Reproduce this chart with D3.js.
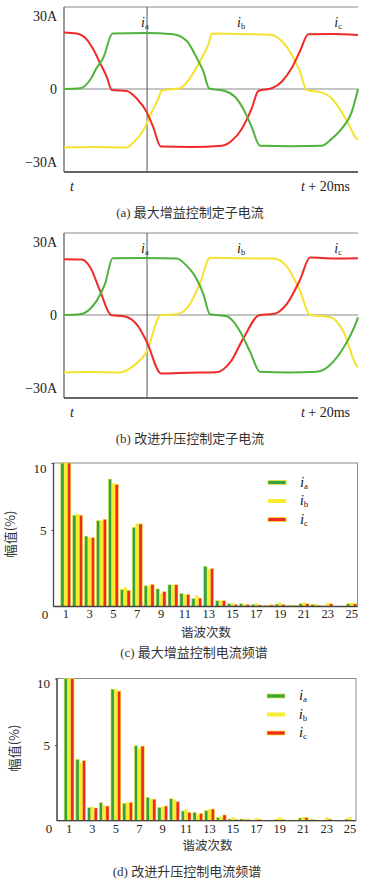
<!DOCTYPE html>
<html lang="zh">
<head>
<meta charset="UTF-8">
<title>定子电流与电流频谱</title>
<script src="https://d3js.org/d3.v7.min.js"></script>
<style>
    body { margin: 0; background: #fff; }
    .num { font-family: "Liberation Serif", "DejaVu Serif", serif; font-size: 14px; fill: #222; }
    .tick text { font-family: "Liberation Serif", "DejaVu Serif", serif; fill: #222; }
    .cap { font-family: "Liberation Serif", "Noto Sans CJK SC", serif; font-size: 13px; fill: #333; }
    .cjk { font-family: "Noto Sans CJK SC", sans-serif; font-size: 13px; fill: #333; }
    .it { font-style: italic; }
</style>
</head>
<body>
<script>
// ---- waveform data: [time ms, current A] ----
// (a) max gain control
let waveA_ia = [[0, 0], [1.1, 0.3], [1.77, 3.7], [2.22, 8.6], [2.67, 12.8], [3.3, 22.8], [5.5, 23], [7.43, 22.5],
    [8.35, 19.7], [9.03, 12.8], [9.48, 7.2], [9.88, 0.2], [10.95, -0.8], [11.63, -3.2], [12.31, -9.5],
    [12.77, -15.7], [13.33, -23.3], [15.5, -23.5], [17.52, -23.3], [18.2, -20.5], [18.88, -16.4], [19.57, -9.5], [20, 0]];
let waveA_ib = [[0, -24], [2.2, -23.8], [4.27, -24], [4.6, -22.6], [5.06, -19.9], [5.51, -15.7], [5.97, -9.5],
    [6.42, -3.9], [6.65, -0.6], [7.89, 0.3], [8.57, 4.5], [9.25, 11.4], [9.82, 18.3], [10.07, 22.8], [12, 22.6],
    [14.13, 22.2], [14.81, 19.7], [15.49, 14.2], [16.05, 7.2], [16.51, -0.4], [17.53, -1.4], [18.21, -3.9],
    [18.89, -9.5], [19.34, -14.3], [19.84, -19.9], [20, -21]];
let waveA_ic = [[0, 23.2], [0.86, 22.8], [1.54, 20.4], [1.99, 16.3], [2.45, 10.7], [2.9, 5.1], [3.25, -0.4],
    [4.27, -0.8], [4.95, -3.9], [5.63, -9.5], [6.07, -15.7], [6.58, -23.6], [8.6, -23.8], [10.73, -23.3],
    [11.41, -21.3], [12.09, -16.4], [12.77, -8], [13.22, -0.8], [14.13, 0.3], [14.81, 3], [15.49, 8.6],
    [16.05, 15.5], [16.62, 22.5], [18.3, 22.6], [20, 22.2]];

// (b) improved boost control
let waveB_ia = [[0, 0], [1.09, 0.3], [1.77, 2.5], [2.22, 5.8], [2.79, 12.8], [3.31, 23.3], [5.5, 23.4], [7.67, 23.2],
    [8.3, 20.5], [8.8, 17], [9.48, 8.6], [9.93, 0.3], [11.07, -0.5], [11.5, -2.5], [11.97, -6.7], [12.65, -15],
    [13.33, -23.3], [15.3, -23.6], [17.19, -23.3], [18.1, -20.5], [19.0, -13.6], [19.91, -2.5], [20, -1]];
let waveB_ib = [[0, -23.6], [2, -23.4], [3.81, -23.6], [4.72, -20.9], [5.63, -15], [6.58, 0], [7.67, 0.3],
    [8.57, 4.5], [9.25, 13], [9.93, 23.5], [12, 23.3], [14.24, 23.2], [15.15, 20], [16.05, 10], [16.74, 0],
    [18.1, -0.8], [19.0, -6.7], [19.91, -20.9], [20, -21.5]];
let waveB_ic = [[0, 22.9], [1.2, 22.8], [1.77, 19.7], [2.45, 10], [3.2, 0], [4.15, -0.6], [4.95, -3.9],
    [5.63, -11], [6.6, -24], [8.5, -23.7], [10.39, -23.5], [11.3, -19.5], [12.2, -9.6], [13.3, 0], [14.24, 0.4],
    [15.15, 4.5], [16.05, 14.4], [16.74, 23.6], [18.4, 23.2], [20, 23.3]];

let waveTicks = [30, 0, -30];
let phaseLabels = [["a", 5.5], ["b", 12.05], ["c", 18.65]];
let cursorMs = 5.65;

// ---- harmonic spectra (amplitude %) ----
let harmonics = [1, 2, 3, 4, 5, 6, 7, 8, 9, 10, 11, 12, 13, 14, 15, 16, 17, 18, 19, 20, 21, 22, 23, 24, 25];
let harmonicTicks = [1, 3, 5, 7, 9, 11, 13, 15, 17, 19, 21, 23, 25];
let ampTicks = [5, 10];

let specC_ia = [10, 6.1, 4.6, 5.7, 8.8, 1.1, 5.2, 1.35, 1.15, 1.42, 0.85, 0.52, 2.63, 0.38, 0.18, 0.18, 0.14, 0.07, 0.16, 0.07, 0.18, 0.14, 0.04, 0.02, 0.18];
let specC_ib = [10, 6.2, 4.5, 5.7, 8.5, 1.25, 5.5, 1.35, 0.85, 1.4, 0.8, 0.73, 2.43, 0.38, 0.23, 0.14, 0.2, 0.1, 0.25, 0.1, 0.25, 0.16, 0.23, 0.02, 0.23];
let specC_ic = [10, 6.1, 4.5, 5.8, 8.4, 1.05, 5.45, 1.45, 0.97, 1.42, 0.78, 0.55, 2.48, 0.38, 0.14, 0.12, 0.1, 0.1, 0.12, 0.07, 0.18, 0.07, 0.18, 0.02, 0.18];

let specD_ia = [10, 4.05, 0.86, 1.19, 9.2, 1.15, 4.95, 1.55, 0.88, 1.45, 0.64, 0.55, 0.66, 0.2, 0.11, 0.11, 0.04, 0.02, 0.09, 0.04, 0.18, 0.09, 0.02, 0, 0.11];
let specD_ib = [10, 3.83, 0.93, 0.99, 9.18, 1.21, 4.8, 1.43, 0.93, 1.4, 0.75, 0.42, 0.75, 0.26, 0.22, 0.13, 0.2, 0.04, 0.22, 0.07, 0.24, 0.09, 0.22, 0, 0.24];
let specD_ic = [10, 3.97, 0.84, 0.97, 9.05, 1.21, 4.93, 1.42, 0.97, 1.25, 0.55, 0.49, 0.77, 0.38, 0.09, 0.09, 0.09, 0.04, 0.09, 0.04, 0.2, 0.02, 0.11, 0, 0.02];

let seriesKeys = ["a", "b", "c"];

let waveColor = { a: "#4fb23c", b: "#f3e22e", c: "#ee2b28" };
let barColor = { a: "#2fa444", b: "#f7eb30", c: "#f02a1c" };
let barEdge = "#f0e23a";

let svg = d3.select("body").append("svg")
    .attr("width", 377)
    .attr("height", 883);

svg.append("rect").attr("width", 377).attr("height", 883).attr("fill", "#fff");

function addPhaseText(sel, x, y, sub, size) {
    let t = sel.append("text").attr("class", "num").attr("x", x).attr("y", y).attr("text-anchor", "middle");
    t.append("tspan").attr("class", "it").style("font-size", size + "px").text("i");
    t.append("tspan").attr("dy", 2).style("font-size", (size * 0.6) + "px").text(sub);
    return t;
}

function drawWave(dy, ia, ib, ic, caption) {
    let g = svg.append("g").attr("transform", "translate(0," + dy + ")");
    let x = d3.scaleLinear().domain([0, 20]).range([64, 358]);
    let y = d3.scaleLinear().domain([-30, 30]).range([162, 16]);

    // frame
    g.append("line").attr("x1", 64).attr("x2", 358).attr("y1", 7).attr("y2", 7)
        .attr("stroke", "#888").attr("stroke-width", 1);
    g.append("line").attr("x1", 64).attr("x2", 358).attr("y1", 172).attr("y2", 172)
        .attr("stroke", "#666").attr("stroke-width", 2);
    g.append("line").attr("x1", 64).attr("x2", 64).attr("y1", 7).attr("y2", 172)
        .attr("stroke", "#555").attr("stroke-width", 1.2);
    g.append("line").attr("x1", 64).attr("x2", 358).attr("y1", y(0)).attr("y2", y(0))
        .attr("stroke", "#8a8a8a").attr("stroke-width", 1);
    g.append("line").attr("x1", x(cursorMs)).attr("x2", x(cursorMs)).attr("y1", 7).attr("y2", 172)
        .attr("stroke", "#555").attr("stroke-width", 1);

    let yAxis = d3.axisLeft(y)
        .tickValues(waveTicks)
        .tickSize(0)
        .tickPadding(7)
        .tickFormat(d => d === 0 ? "0" : (d > 0 ? d + "A" : "\u2212" + Math.abs(d) + "A"));
    g.append("g").attr("transform", "translate(64,0)").call(yAxis)
        .call(s => s.select(".domain").remove())
        .selectAll("text").style("font-size", "14px");

    let line = d3.line()
        .x(d => x(d[0]))
        .y(d => y(d[1]))
        .curve(d3.curveMonotoneX);

    [["b", ib], ["c", ic], ["a", ia]].forEach(s => {
        g.append("path")
            .datum(s[1])
            .attr("d", line)
            .attr("fill", "none")
            .attr("stroke", waveColor[s[0]])
            .attr("stroke-width", 2)
            .attr("stroke-linejoin", "round");
    });

    phaseLabels.forEach(p => addPhaseText(g, x(p[1]), 27, p[0], 14));

    g.append("text").attr("class", "num it").attr("x", 70).attr("y", 191).text("t");
    let t2 = g.append("text").attr("class", "num").attr("x", 350).attr("y", 191).attr("text-anchor", "end");
    t2.append("tspan").attr("class", "it").text("t");
    t2.append("tspan").text(" + 20ms");

    g.append("text").attr("class", "cap").attr("x", 190).attr("y", 217)
        .attr("text-anchor", "middle").text(caption);
}

function drawSpectrum(cfg, ia, ib, ic, caption) {
    let g = svg.append("g");
    let rows = harmonics.map((h, i) => ({ h: h, a: ia[i], b: ib[i], c: ic[i] }));

    let x0 = d3.scaleBand().domain(harmonics).range(cfg.band).paddingInner(0.16).paddingOuter(0.08);
    let x1 = d3.scaleBand().domain(seriesKeys).range([0, x0.bandwidth()]);
    let y = d3.scaleLinear().domain([0, 5, 10]).range([cfg.bottom, cfg.y5, cfg.top]);

    // box
    g.append("rect").attr("x", cfg.left).attr("y", cfg.top)
        .attr("width", cfg.right - cfg.left).attr("height", cfg.bottom - cfg.top)
        .attr("fill", "none").attr("stroke", "#8c8c8c").attr("stroke-width", 1);

    // bars
    g.selectAll("g.grp").data(rows).join("g")
        .attr("class", "grp")
        .attr("transform", d => "translate(" + x0(d.h) + ",0)")
        .selectAll("rect").data(d => seriesKeys.map(k => ({ k: k, v: d[k] }))).join("rect")
        .attr("x", d => x1(d.k))
        .attr("width", x1.bandwidth())
        .attr("y", d => y(d.v))
        .attr("height", d => cfg.bottom - y(d.v))
        .attr("fill", d => barColor[d.k])
        .attr("stroke", d => d.k === "b" ? "none" : barEdge)
        .attr("stroke-width", 0.6);

    // left and bottom axis lines
    g.append("line").attr("x1", cfg.left).attr("x2", cfg.left).attr("y1", cfg.top).attr("y2", cfg.bottom)
        .attr("stroke", "#444").attr("stroke-width", 1.3);
    g.append("line").attr("x1", cfg.left).attr("x2", cfg.right).attr("y1", cfg.bottom).attr("y2", cfg.bottom)
        .attr("stroke", "#444").attr("stroke-width", 1.3);

    let xAxis = d3.axisBottom(x0).tickValues(harmonicTicks).tickSize(0).tickPadding(3);
    g.append("g").attr("transform", "translate(0," + cfg.bottom + ")").call(xAxis)
        .call(s => s.select(".domain").remove())
        .selectAll("text").style("font-size", "12.5px");

    let yAxis = d3.axisLeft(y).tickValues(ampTicks).tickSize(2).tickPadding(5);
    let ya = g.append("g").attr("transform", "translate(" + cfg.left + ",0)").call(yAxis)
        .call(s => s.select(".domain").remove());
    ya.selectAll("line").attr("stroke", "#444");
    ya.selectAll("text").style("font-size", "13px")
        .attr("dy", d => d === 10 ? "0.7em" : "0.32em");

    g.append("text").attr("class", "num").style("font-size", "13px")
        .attr("x", cfg.zeroX).attr("y", cfg.bottom + 12.5).attr("text-anchor", "middle").text("0");

    // axis titles
    g.append("text").attr("class", "cjk")
        .attr("transform", "translate(" + cfg.yTitle[0] + "," + cfg.yTitle[1] + ") rotate(-90)")
        .attr("text-anchor", "middle").attr("dy", "0.35em").text("幅值(%)");
    g.append("text").attr("class", "cjk").style("font-size", "12.5px")
        .attr("x", cfg.xTitle[0]).attr("y", cfg.xTitle[1])
        .attr("text-anchor", "middle").text("谐波次数");

    // legend
    seriesKeys.forEach((k, i) => {
        let ly = cfg.legendY + i * cfg.legendStep;
        g.append("rect").attr("x", cfg.legendX).attr("y", ly - 2).attr("width", 18).attr("height", 4)
            .attr("fill", barColor[k]).attr("stroke", k === "b" ? "none" : barEdge).attr("stroke-width", 0.8);
        addPhaseText(g, cfg.legendX + 36, ly + 4, k, 15);
    });

    g.append("text").attr("class", "cap").attr("x", cfg.capX).attr("y", cfg.capY)
        .attr("text-anchor", "middle").text(caption);
}

drawWave(0, waveA_ia, waveA_ib, waveA_ic, "(a) 最大增益控制定子电流");
drawWave(226, waveB_ia, waveB_ib, waveB_ic, "(b) 改进升压控制定子电流");

drawSpectrum({
    left: 53.5, right: 357.5, top: 463, bottom: 606.5, y5: 530, band: [59.8, 357.6],
    zeroX: 45, yTitle: [10, 534], xTitle: [206, 637],
    legendX: 268, legendY: 482.5, legendStep: 18.5, capX: 194, capY: 657
}, specC_ia, specC_ib, specC_ic, "(c) 最大增益控制电流频谱");

drawSpectrum({
    left: 57, right: 356, top: 678.5, bottom: 820.7, y5: 745, band: [63.2, 355.9],
    zeroX: 49, yTitle: [14, 748], xTitle: [207.5, 850],
    legendX: 267, legendY: 696, legendStep: 18.5, capX: 187, capY: 876
}, specD_ia, specD_ib, specD_ic, "(d) 改进升压控制电流频谱");
</script>
</body>
</html>
